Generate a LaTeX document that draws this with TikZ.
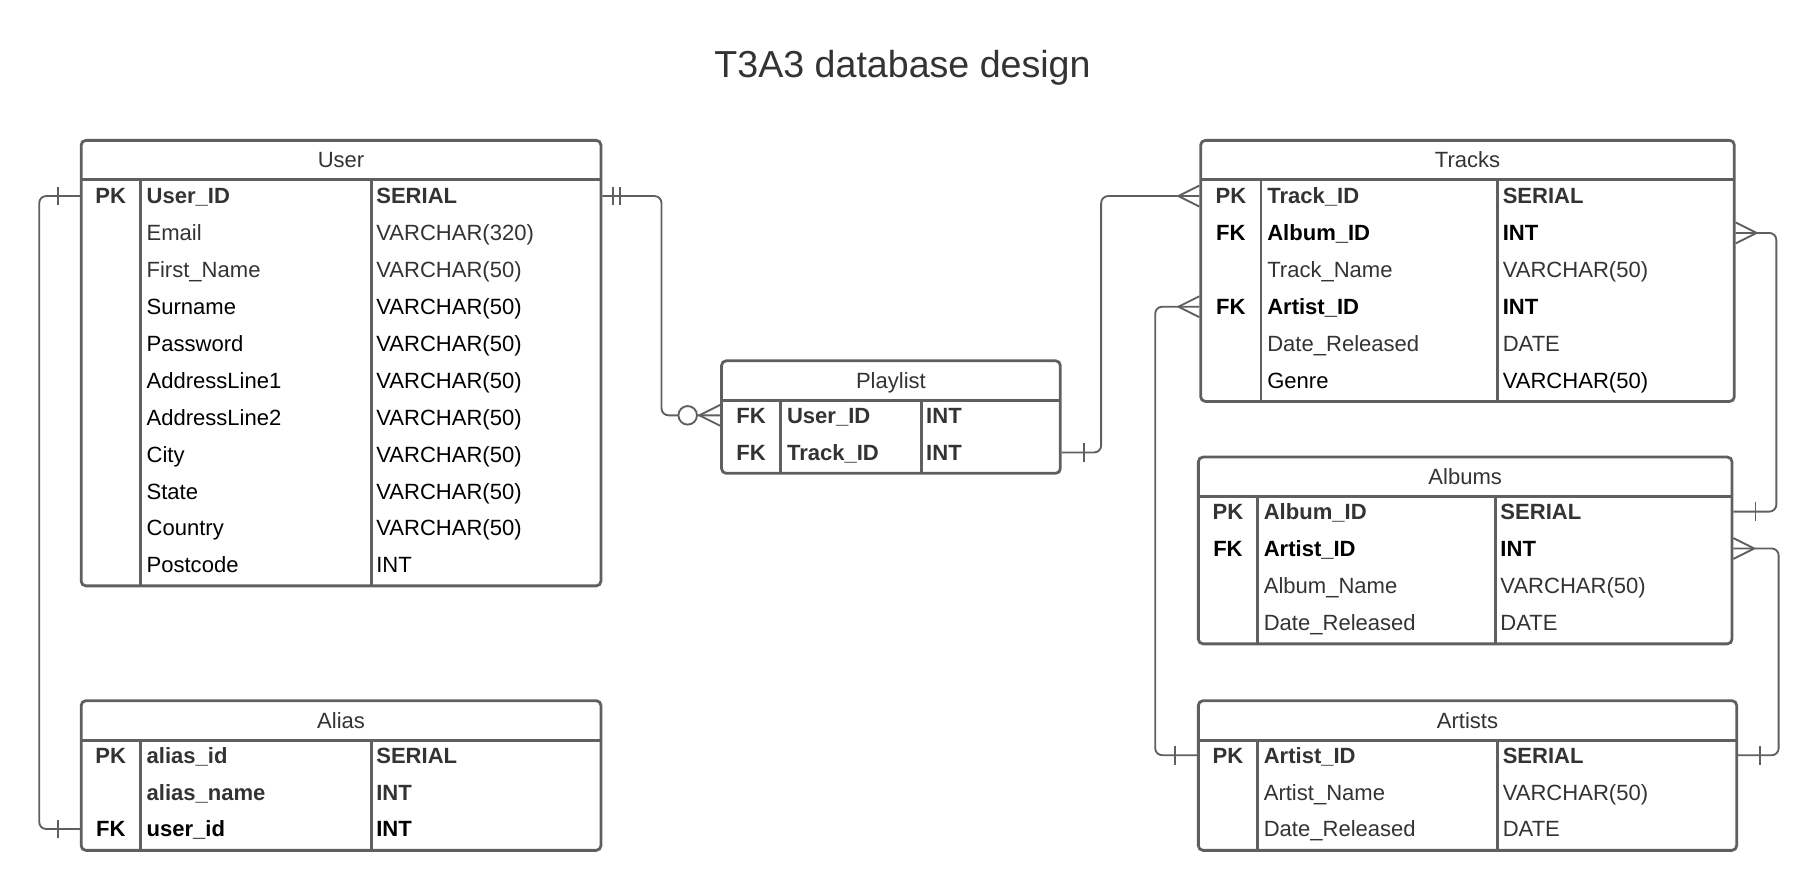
\documentclass[tikz,border=0pt]{standalone}
\usepackage{fontspec}
\setmainfont{Liberation Sans}
\usetikzlibrary{positioning,fit,calc}

\definecolor{linegray}{HTML}{5F5F5F}
\definecolor{txtgray}{HTML}{333333}
\newcommand\cellfont{\fontsize{9.5}{11}\selectfont}

\tikzset{
  tablebox/.style={draw=linegray, line width=1.2pt, rounded corners=2pt, inner sep=0pt},
  tablerule/.style={draw=linegray, line width=1.2pt},
  link/.style={draw=linegray, line width=0.8pt, rounded corners=3pt},
  cell/.style={inner sep=0pt, anchor=west, text height=6.8pt, text depth=0pt, font=\cellfont},
  keycell/.style={cell, anchor=center},
  headcell/.style={inner sep=0pt, text height=6.8pt, text depth=0pt, font=\cellfont, text=txtgray},
  idrow/.style={font=\cellfont\bfseries, text=txtgray},
  fkrow/.style={font=\cellfont\bfseries, text=black},
  dimrow/.style={text=txtgray},
  plainrow/.style={text=black},
  pics/onemark/.style={code={\draw[link] (-19,-8) -- (-19,8);}},
  pics/twomark/.style={code={\draw[link] (-9,-8) -- (-9,8) (-15,-8) -- (-15,8);}},
  pics/manymark/.style={code={\draw[link] (-18,0) -- (0,-9) (-18,0) -- (0,9);}},
  pics/zeromanymark/.style={code={
    \draw[link] (-18,0) -- (0,-9) (-18,0) -- (0,9);
    \draw[link, fill=white] (-28,0) circle (8);}},
}

\begin{document}
\begin{tikzpicture}[x=0.5pt, y=-0.5pt]
  \useasboundingbox (0,0) rectangle (1568,768);

  \node[font=\fontsize{16.2}{19}\selectfont, text=txtgray, text height=11.6pt, text depth=0pt, inner sep=0pt] (title) at (778,55) {T3A3 database design};

  % User
  \node[tablebox, fit={(70,121) (518,505)}] (user) {};
  \draw[tablerule] (70,155) -- (518,155) (121,155) -- (121,505) (320,155) -- (320,505);
  \node[headcell] (user-head) at (294,138) {User};
  \foreach \k/\f/\t/\s [count=\i] in {
      PK/User\_ID/SERIAL/idrow,
      {}/Email/VARCHAR(320)/dimrow,
      {}/First\_Name/VARCHAR(50)/dimrow,
      {}/Surname/VARCHAR(50)/plainrow,
      {}/Password/VARCHAR(50)/plainrow,
      {}/AddressLine1/VARCHAR(50)/plainrow,
      {}/AddressLine2/VARCHAR(50)/plainrow,
      {}/City/VARCHAR(50)/plainrow,
      {}/State/VARCHAR(50)/plainrow,
      {}/Country/VARCHAR(50)/plainrow,
      {}/Postcode/INT/plainrow} {
    \pgfmathsetmacro\ry{169+31.8*(\i-1)}
    \node[keycell,\s] (user-k\i) at (95.5,\ry) {\k};
    \node[cell,\s] (user-f\i) at (126,\ry) {\f};
    \node[cell,\s] (user-t\i) at (324,\ry) {\t};
  }

  % Alias
  \node[tablebox, fit={(70,604) (518,733)}] (alias) {};
  \draw[tablerule] (70,638) -- (518,638) (121,638) -- (121,733) (320,638) -- (320,733);
  \node[headcell] (alias-head) at (294,621) {Alias};
  \foreach \k/\f/\t/\s [count=\i] in {
      PK/alias\_id/SERIAL/idrow,
      {}/alias\_name/INT/idrow,
      FK/user\_id/INT/fkrow} {
    \pgfmathsetmacro\ry{651+31.8*(\i-1)}
    \node[keycell,\s] (alias-k\i) at (95.5,\ry) {\k};
    \node[cell,\s] (alias-f\i) at (126,\ry) {\f};
    \node[cell,\s] (alias-t\i) at (324,\ry) {\t};
  }

  % Playlist
  \node[tablebox, fit={(622,311) (914,408)}] (playlist) {};
  \draw[tablerule] (622,345) -- (914,345) (673,345) -- (673,408) (794,345) -- (794,408);
  \node[headcell] (playlist-head) at (768,328) {Playlist};
  \foreach \k/\f/\t/\s [count=\i] in {
      FK/User\_ID/INT/idrow,
      FK/Track\_ID/INT/idrow} {
    \pgfmathsetmacro\ry{358+32*(\i-1)}
    \node[keycell,\s] (playlist-k\i) at (647.5,\ry) {\k};
    \node[cell,\s] (playlist-f\i) at (678,\ry) {\f};
    \node[cell,\s] (playlist-t\i) at (798,\ry) {\t};
  }

  % Tracks
  \node[tablebox, fit={(1035,121) (1495,346)}] (tracks) {};
  \draw[tablerule] (1035,155) -- (1495,155) (1087,155) -- (1087,346) (1291,155) -- (1291,346);
  \node[headcell] (tracks-head) at (1265,138) {Tracks};
  \foreach \k/\f/\t/\s [count=\i] in {
      PK/Track\_ID/SERIAL/idrow,
      FK/Album\_ID/INT/fkrow,
      {}/Track\_Name/VARCHAR(50)/dimrow,
      FK/Artist\_ID/INT/fkrow,
      {}/Date\_Released/DATE/dimrow,
      {}/Genre/VARCHAR(50)/plainrow} {
    \pgfmathsetmacro\ry{169+31.8*(\i-1)}
    \node[keycell,\s] (tracks-k\i) at (1061,\ry) {\k};
    \node[cell,\s] (tracks-f\i) at (1092,\ry) {\f};
    \node[cell,\s] (tracks-t\i) at (1295,\ry) {\t};
  }

  % Albums
  \node[tablebox, fit={(1033,394) (1493,555)}] (albums) {};
  \draw[tablerule] (1033,428) -- (1493,428) (1084,428) -- (1084,555) (1289,428) -- (1289,555);
  \node[headcell] (albums-head) at (1263,411) {Albums};
  \foreach \k/\f/\t/\s [count=\i] in {
      PK/Album\_ID/SERIAL/idrow,
      FK/Artist\_ID/INT/fkrow,
      {}/Album\_Name/VARCHAR(50)/dimrow,
      {}/Date\_Released/DATE/dimrow} {
    \pgfmathsetmacro\ry{441+31.8*(\i-1)}
    \node[keycell,\s] (albums-k\i) at (1058.5,\ry) {\k};
    \node[cell,\s] (albums-f\i) at (1089,\ry) {\f};
    \node[cell,\s] (albums-t\i) at (1293,\ry) {\t};
  }

  % Artists
  \node[tablebox, fit={(1033,604) (1497,733)}] (artists) {};
  \draw[tablerule] (1033,638) -- (1497,638) (1084,638) -- (1084,733) (1291,638) -- (1291,733);
  \node[headcell] (artists-head) at (1265,621) {Artists};
  \foreach \k/\f/\t/\s [count=\i] in {
      PK/Artist\_ID/SERIAL/idrow,
      {}/Artist\_Name/VARCHAR(50)/dimrow,
      {}/Date\_Released/DATE/dimrow} {
    \pgfmathsetmacro\ry{651+31.8*(\i-1)}
    \node[keycell,\s] (artists-k\i) at (1058.5,\ry) {\k};
    \node[cell,\s] (artists-f\i) at (1089,\ry) {\f};
    \node[cell,\s] (artists-t\i) at (1295,\ry) {\t};
  }

  % relations
  \draw[link] (user.west |- user-k1) -- ++(-35,0) |- (alias.west |- alias-k3);
  \pic at (user.west |- user-k1) {onemark};
  \pic at (alias.west |- alias-k3) {onemark};

  \draw[link] (user.east |- user-k1) -- ++(51,0) |- (playlist.west |- playlist-k1);
  \pic[xscale=-1] at (user.east |- user-k1) {twomark};
  \pic at (playlist.west |- playlist-k1) {zeromanymark};

  \draw[link] (playlist.east |- playlist-k2) -- ++(34,0) |- (tracks.west |- tracks-k1);
  \pic[xscale=-1] at (playlist.east |- playlist-k2) {onemark};
  \pic at (tracks.west |- tracks-k1) {manymark};

  \draw[link] (tracks.east |- tracks-k2) -- ++(35,0) |- (albums.east |- albums-k1);
  \pic[xscale=-1] at (tracks.east |- tracks-k2) {manymark};
  \pic[xscale=-1] at (albums.east |- albums-k1) {onemark};

  \draw[link] (tracks.west |- tracks-k4) -- ++(-38,0) |- (artists.west |- artists-k1);
  \pic at (tracks.west |- tracks-k4) {manymark};
  \pic at (artists.west |- artists-k1) {onemark};

  \draw[link] (albums.east |- albums-k2) -- ++(39,0) |- (artists.east |- artists-k1);
  \pic[xscale=-1] at (albums.east |- albums-k2) {manymark};
  \pic[xscale=-1] at (artists.east |- artists-k1) {onemark};
\end{tikzpicture}
\end{document}
